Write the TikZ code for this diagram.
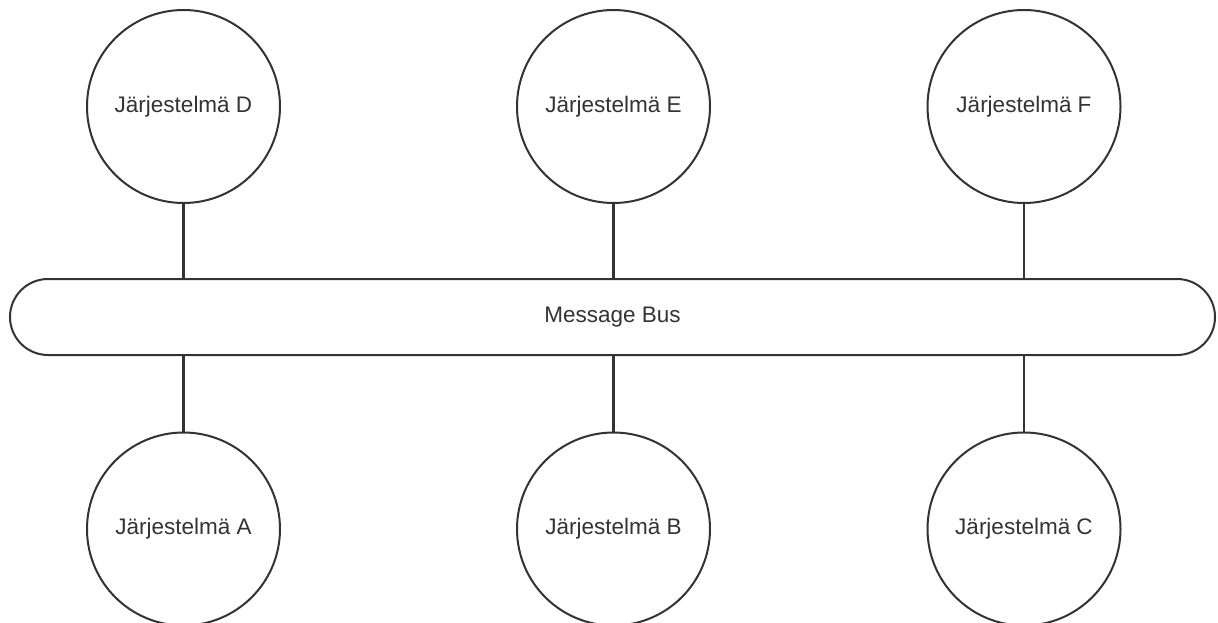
\documentclass[tikz,border=0pt]{standalone}
\usepackage{fontspec}
\setmainfont{Liberation Sans}
\definecolor{stroke}{HTML}{333333}
\begin{document}
\begin{tikzpicture}[x=1pt,y=-1pt,
  sys/.style={circle,draw=stroke,line width=2pt,minimum size=193pt,inner sep=0pt,
    font=\fontsize{22.5}{27}\selectfont,text=stroke},
  busbox/.style={rectangle,rounded corners=38pt,draw=stroke,line width=2pt,
    minimum width=1205pt,minimum height=76pt,inner sep=0pt,
    font=\fontsize{22.5}{27}\selectfont,text=stroke},
  link/.style={draw=stroke,line width=2.4pt}]
\useasboundingbox (0,0) rectangle (1218,623);
\node[busbox] (bus) at (612.5,317) {Message Bus};
\node[sys] (D) at (183.5,106.5) {Järjestelmä D};
\node[sys] (E) at (613.5,106.5) {Järjestelmä E};
\node[sys] (F) at (1024,106.5) {Järjestelmä F};
\node[sys] (A) at (183.5,529) {Järjestelmä A};
\node[sys] (B) at (613.5,529) {Järjestelmä B};
\node[sys] (C) at (1024,529) {Järjestelmä C};
\foreach \n in {D,E,F}{\draw[link] (\n.south) -- (\n.south |- bus.north);}
\foreach \n in {A,B,C}{\draw[link] (\n.north) -- (\n.north |- bus.south);}
\end{tikzpicture}
\end{document}
